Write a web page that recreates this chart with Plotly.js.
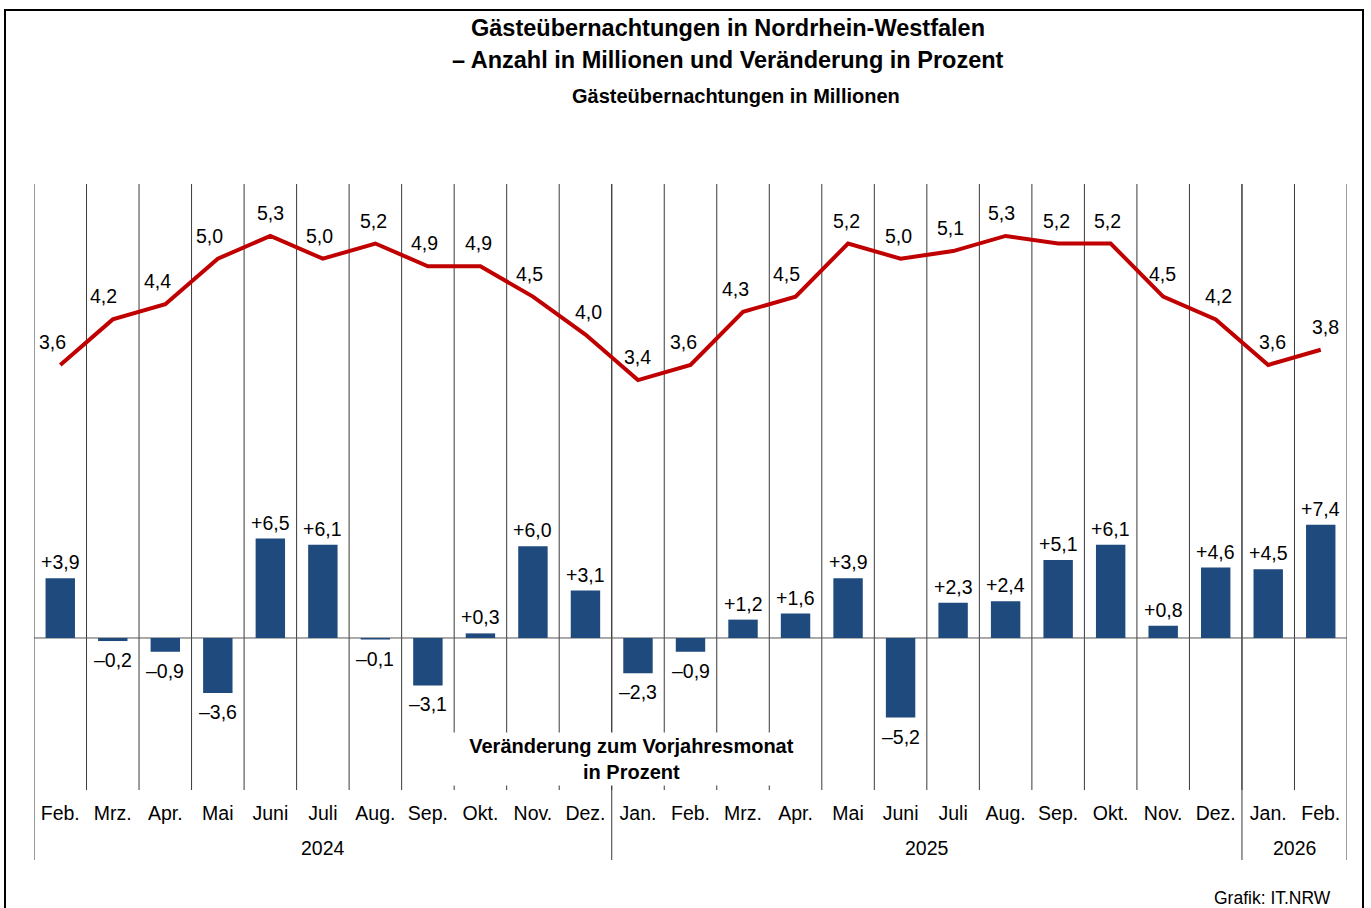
<!DOCTYPE html>
<html>
<head>
<meta charset="utf-8">
<script src="https://cdn.plot.ly/plotly-3.0.1.min.js"></script>
<style>html,body{margin:0;padding:0;background:#fff;}#chart{width:1371px;height:908px;}</style>
</head>
<body>
<div id="chart"></div>
<script>
// ---- data ----
const months = ['Feb.','Mrz.','Apr.','Mai','Juni','Juli','Aug.','Sep.','Okt.','Nov.','Dez.',
                'Jan.','Feb.','Mrz.','Apr.','Mai','Juni','Juli','Aug.','Sep.','Okt.','Nov.','Dez.',
                'Jan.','Feb.'];
const years = ['2024','2025','2026'];
const yearFirstIdx = [0, 11, 23];
const yearLastIdx = [10, 22, 24];
const overnightStays = [3.6,4.2,4.4,5.0,5.3,5.0,5.2,4.9,4.9,4.5,4.0,
                        3.4,3.6,4.3,4.5,5.2,5.0,5.1,5.3,5.2,5.2,4.5,4.2,
                        3.6,3.8];
const changePct = [3.9,-0.2,-0.9,-3.6,6.5,6.1,-0.1,-3.1,0.3,6.0,3.1,
                   -2.3,-0.9,1.2,1.6,3.9,-5.2,2.3,2.4,5.1,6.1,0.8,4.6,
                   4.5,7.4];
// label horizontal nudges (px) for the line labels
const lineLabelShift = [-8,-9,-8,-8,0,-3,-2,-3,-2,-3,3,0,-7,-8,-9,-2,-2,-3,-4,-2,-3,-1,3,4,5];

const FONT = 'Liberation Sans, Arial, sans-serif';
const idx = months.map((m,i)=>i);
const fmt = v => v.toFixed(1).replace('.', ',');
const fmtPct = v => (v > 0 ? '+' : '\u2013') + Math.abs(v).toFixed(1).replace('.', ',');

// plot geometry helpers (paper coordinates)
const plotTopPx = 184, plotBottomPx = 790, plotLeftPx = 34, plotRightPx = 1347;
const H = plotBottomPx - plotTopPx, W = plotRightPx - plotLeftPx;
const py = p => (plotBottomPx - p) / H;
const px = p => (p - plotLeftPx) / W;

const traces = [
  {
    type: 'bar', x: idx, y: changePct, yaxis: 'y2',
    marker: {color: '#1f4a7e'}, width: 0.56,
    hoverinfo: 'skip'
  },
  {
    type: 'scatter', mode: 'lines', x: idx, y: overnightStays, yaxis: 'y',
    line: {color: '#c00000', width: 4}, hoverinfo: 'skip'
  }
];

const shapes = [];
// month dividers
for (let i = 0; i < months.length - 1; i++) {
  shapes.push({type: 'line', layer: 'below', xref: 'x', yref: 'paper',
    x0: i + 0.5, x1: i + 0.5, y0: 0, y1: 1, line: {color: '#3a3a3a', width: 1}});
}
// year separators (long)
const seps = [-0.5].concat(yearLastIdx.map(v => v + 0.5));
seps.forEach(s => shapes.push({type: 'line', layer: 'below', xref: 'x', yref: 'paper',
  x0: s, x1: s, y0: py(860), y1: 1, line: {color: '#3a3a3a', width: 1}}));
// zero line for bars
shapes.push({type: 'line', layer: 'below', xref: 'x', yref: 'y2', x0: -0.5, x1: 24.5, y0: 0, y1: 0,
  line: {color: '#555', width: 1}});
// outer border
shapes.push({type: 'rect', xref: 'paper', yref: 'paper', x0: px(5), x1: px(1363), y0: py(930), y1: py(10),
  line: {color: '#000', width: 2}, fillcolor: 'rgba(0,0,0,0)'});

const annotations = [];
const ann = (o) => annotations.push(Object.assign({showarrow: false, xanchor: 'center', yanchor: 'middle'}, o));
overnightStays.forEach((v, i) => ann({
  x: i, y: v, xref: 'x', yref: 'y', text: fmt(v), yanchor: 'bottom',
  yshift: 10, xshift: lineLabelShift[i], font: {family: FONT, size: 19.5, color: '#000'}
}));
changePct.forEach((v, i) => ann({
  x: i, y: v, xref: 'x', yref: 'y2', text: fmtPct(v),
  yanchor: v > 0 ? 'bottom' : 'top', yshift: v > 0 ? 3 : -6,
  font: {family: FONT, size: 19.5, color: '#000'}
}));
years.forEach((y, k) => ann({
  x: (yearFirstIdx[k] + yearLastIdx[k]) / 2, y: py(848), xref: 'x', yref: 'paper',
  text: y, font: {family: FONT, size: 19.5, color: '#000'}
}));
ann({x: px(728), y: py(28), xref: 'paper', yref: 'paper',
  text: '<b>Gästeübernachtungen in Nordrhein-Westfalen</b>', font: {family: FONT, size: 23.5, color: '#000'}});
ann({x: px(728), y: py(60), xref: 'paper', yref: 'paper',
  text: '<b>\u2013 Anzahl in Millionen und Veränderung in Prozent</b>', font: {family: FONT, size: 23.5, color: '#000'}});
ann({x: px(736), y: py(96), xref: 'paper', yref: 'paper',
  text: '<b>Gästeübernachtungen in Millionen</b>', font: {family: FONT, size: 20, color: '#000'}});
ann({x: px(631), y: py(759), xref: 'paper', yref: 'paper',
  text: '<b>Veränderung zum Vorjahresmonat<br>in Prozent</b>', bgcolor: '#fff',
  width: 375, height: 50, font: {family: FONT, size: 20, color: '#000'}});
ann({x: px(1333), y: py(898), xref: 'paper', yref: 'paper', xanchor: 'right',
  text: 'Grafik: IT.NRW', font: {family: FONT, size: 17.5, color: '#000'}});

const layout = {
  width: 1371, height: 908,
  margin: {l: plotLeftPx, r: 1371 - plotRightPx, t: plotTopPx, b: 908 - plotBottomPx, pad: 0},
  paper_bgcolor: '#fff', plot_bgcolor: '#fff',
  showlegend: false,
  font: {family: FONT, color: '#000'},
  xaxis: {range: [-0.5, 24.5], tickvals: idx, ticktext: months, showgrid: false, zeroline: false,
    showline: false, ticks: '', ticklabelstandoff: 9, tickfont: {family: FONT, size: 19.5, color: '#000'},
    fixedrange: true},
  yaxis: {range: [-2.0, 5.984], visible: false, showgrid: false, zeroline: false, fixedrange: true},
  yaxis2: {range: [-9.935, 29.67], overlaying: 'y', visible: false, showgrid: false, zeroline: false, fixedrange: true},
  shapes: shapes,
  annotations: annotations
};

Plotly.newPlot('chart', traces, layout, {staticPlot: true, displayModeBar: false});
</script>
</body>
</html>
